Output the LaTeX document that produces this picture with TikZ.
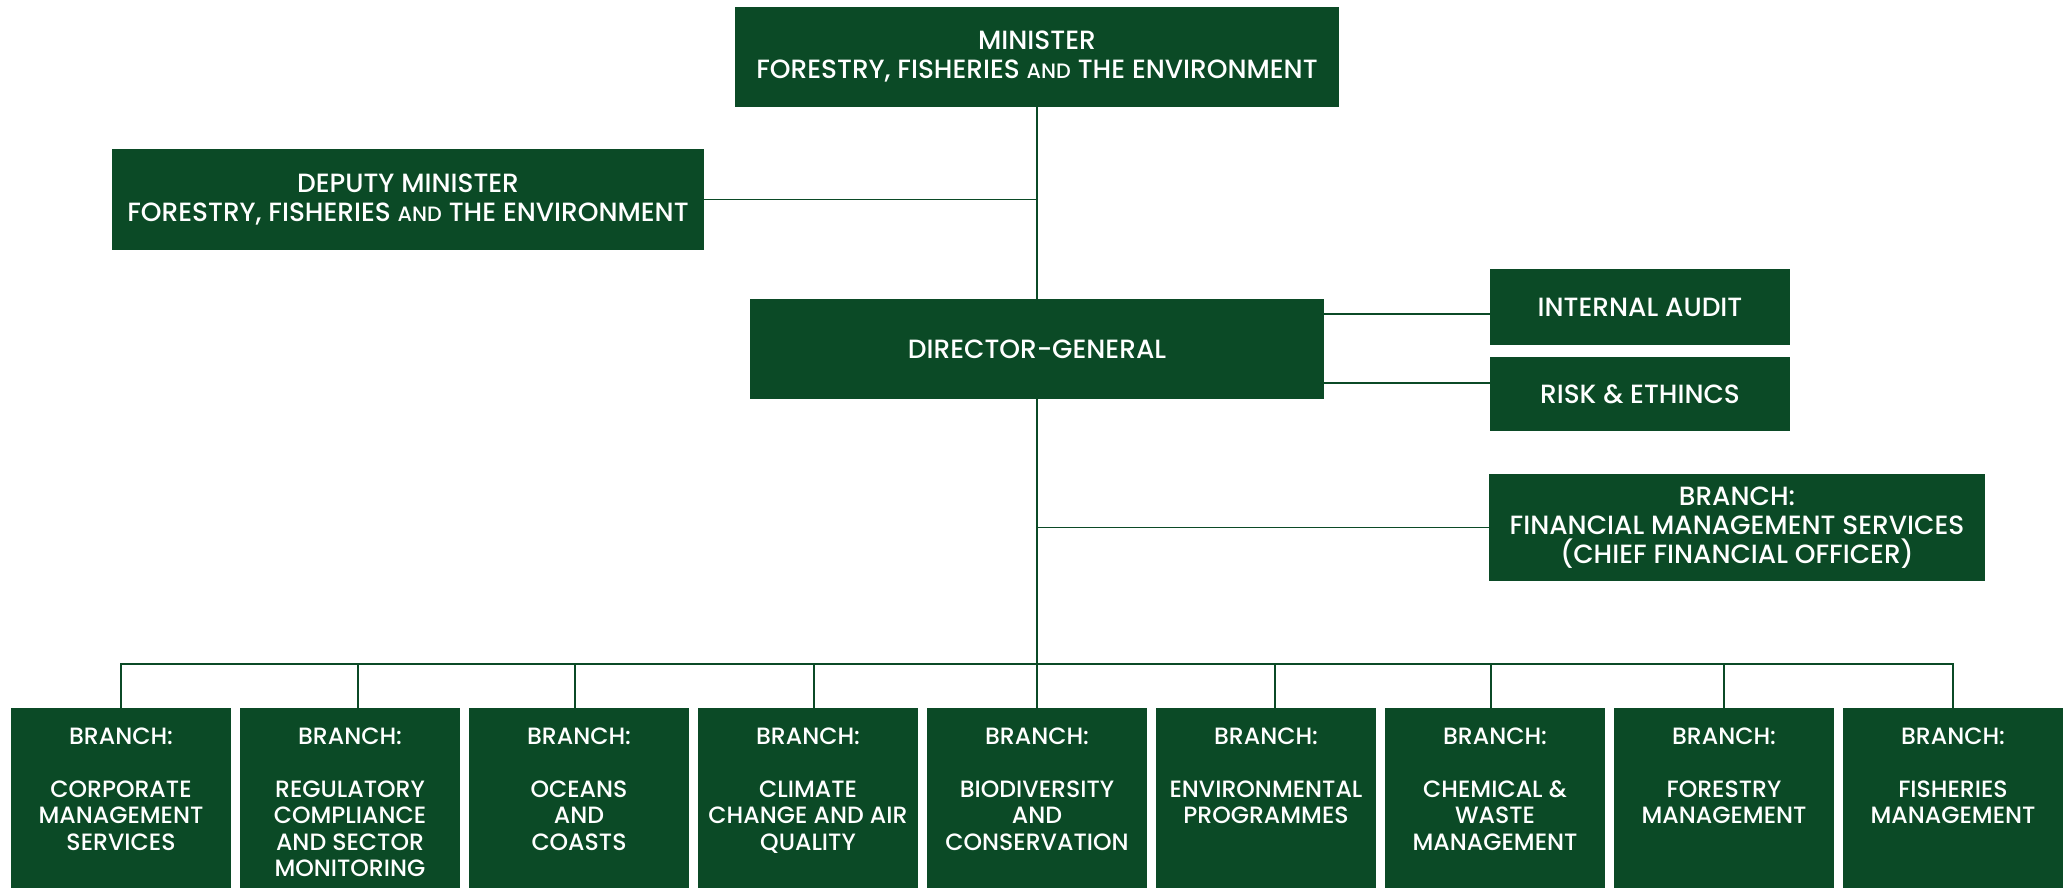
\documentclass[tikz,border=0pt]{standalone}
\usepackage{fontspec}
\setmainfont{Poppins}[UprightFont=* Medium]
\usetikzlibrary{positioning}
\definecolor{dgreen}{HTML}{0B4A26}
\newcommand{\sm}[1]{{\fontsize{10.4pt}{15pt}\selectfont #1}}

\begin{document}
\begin{tikzpicture}[x=0.5pt,y=-0.5pt,
    box/.style={fill=dgreen,text=white,align=center,inner sep=0pt,
      font=\fontsize{13.2pt}{14.5pt}\selectfont},
    branch/.style={fill=dgreen,minimum width=110pt,minimum height=90pt,
      inner sep=0pt},
    btext/.style={text=white,align=center,inner sep=0pt,
      font=\fontsize{11.8pt}{13.2pt}\selectfont},
    link/.style={draw=dgreen,line width=0.9pt}]
  \useasboundingbox (0,0) rectangle (2071,888);
  % top of the tree
  \node[box,minimum width=302pt,minimum height=50pt] (min) at (1037,57)
    {MINISTER\\FORESTRY, FISHERIES \sm{AND} THE ENVIRONMENT};
  \node[box,minimum width=296pt,minimum height=50.5pt] (dep) at (408,199.5)
    {DEPUTY MINISTER\\FORESTRY, FISHERIES \sm{AND} THE ENVIRONMENT};
  \node[box,minimum width=287pt,minimum height=50pt] (dg) at (1037,349)
    {DIRECTOR-GENERAL};
  \node[box,minimum width=150pt,minimum height=38pt] (audit) at (1640,307)
    {INTERNAL AUDIT};
  \node[box,minimum width=150pt,minimum height=37pt] (risk) at (1640,394)
    {RISK \& ETHINCS};
  \node[box,minimum width=248pt,minimum height=53.5pt] (cfo) at (1737,527.5)
    {BRANCH:\\FINANCIAL MANAGEMENT SERVICES\\(CHIEF FINANCIAL OFFICER)};
  % branches
  \foreach \i/\txt in {1/{CORPORATE\\MANAGEMENT\\SERVICES},
      2/{REGULATORY\\COMPLIANCE\\AND SECTOR\\MONITORING},
      3/{OCEANS\\AND\\COASTS},
      4/{CLIMATE\\CHANGE AND AIR\\QUALITY},
      5/{BIODIVERSITY\\AND\\CONSERVATION},
      6/{ENVIRONMENTAL\\PROGRAMMES},
      7/{CHEMICAL \&\\WASTE\\MANAGEMENT},
      8/{FORESTRY\\MANAGEMENT},
      9/{FISHERIES\\MANAGEMENT}} {
    \node[branch] (b\i) at ({121+229*(\i-1)},798) {};
    \node[btext,below=10pt of b\i.north] (t\i) {BRANCH:\\[13.2pt]\txt};
  }
  \coordinate (bus) at (1037,664);
  % connectors
  \draw[link] (min) -- (dg);
  \draw[link] (dep) -- (dep -| min);
  \draw[link] ([yshift=-3.5pt]audit.west) -- ([yshift=-3.5pt]audit.west -| dg.east);
  \draw[link] ([yshift=5.5pt]risk.west) -- ([yshift=5.5pt]risk.west -| dg.east);
  \draw[link] (cfo) -- (cfo -| dg);
  \draw[link] (dg) -- (b5);
  \draw[link] (b1) |- (bus) -| (b9);
  \foreach \i/\dx in {2/4pt,3/-2pt,4/3pt,6/4.5pt,7/-2pt,8/0pt}
    \draw[link] ([xshift=\dx]b\i.north) -- ([xshift=\dx]b\i.north |- bus);
\end{tikzpicture}
\end{document}
